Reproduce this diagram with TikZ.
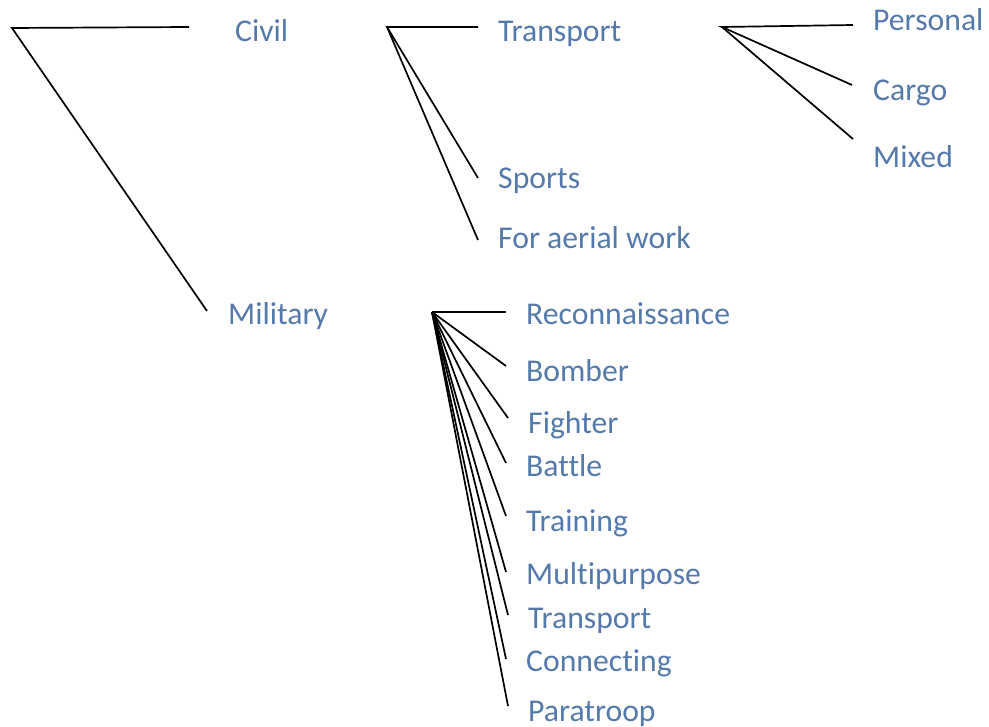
\documentclass[tikz,border=0pt]{standalone}
\usepackage{fontspec}
\setmainfont{Carlito}[Ligatures={NoCommon}]
\definecolor{lbl}{RGB}{84,122,172}
\begin{document}
\begin{tikzpicture}[x=1pt,y=-1pt,
  lab/.style={anchor=base west,inner sep=0pt,text=lbl,font=\fontsize{31.7}{36}\selectfont},
  conn/.style={draw=black,line width=1.7pt}]
\useasboundingbox (0,0) rectangle (989,727);
% root
\coordinate (r) at (12,28);
\coordinate (rc) at (189,27);
\coordinate (rm) at (207,311);
\node[lab] (civil) at (235,42) {Civil};
\node[lab] (military) at (228,325) {Military};
\draw[conn] (rc) -- (r) -- (rm);
% civil branch
\coordinate (c) at (387,27);
\coordinate (ct) at (478,27);
\coordinate (cs) at (478,178);
\coordinate (ca) at (478,240);
\node[lab] (transport) at (498,42) {Transport};
\node[lab] (sports) at (498,189) {Sports};
\node[lab] (aerial) at (498,249) {For aerial work};
\draw[conn] (ct) -- (c) -- (cs);
\draw[conn] (c) -- (ca);
% transport branch
\coordinate (t) at (722,27);
\coordinate (tp) at (853,25);
\coordinate (tc) at (852,85);
\coordinate (tm) at (853,139);
\node[lab] (personal) at (873,31) {Personal};
\node[lab] (cargo) at (873,101) {Cargo};
\node[lab] (mixed) at (873,168) {Mixed};
\draw[conn] (tp) -- (t) -- (tc);
\draw[conn] (t) -- (tm);
% military branch
\coordinate (m) at (432,312);
\coordinate (m1) at (506,312);
\coordinate (m2) at (506,366);
\coordinate (m3) at (508,418);
\coordinate (m4) at (506,463);
\coordinate (m5) at (506,516);
\coordinate (m6) at (506,572);
\coordinate (m7) at (508,615);
\coordinate (m8) at (506,659);
\coordinate (m9) at (508,706);
\node[lab] (recon) at (526,325) {Reconnaissance};
\node[lab] (bomber) at (526,382) {Bomber};
\node[lab] (fighter) at (528,434) {Fighter};
\node[lab] (battle) at (526,477) {Battle};
\node[lab] (training) at (526,531) {Training};
\node[lab] (multi) at (526,584) {Multipurpose};
\node[lab] (mtransport) at (528,628) {Transport};
\node[lab] (connecting) at (526,671) {Connecting};
\node[lab] (paratroop) at (528,721) {Paratroop};
\foreach \e in {m1,m2,m3,m4,m5,m6,m7,m8,m9} \draw[conn] (m) -- (\e);
\end{tikzpicture}
\end{document}
